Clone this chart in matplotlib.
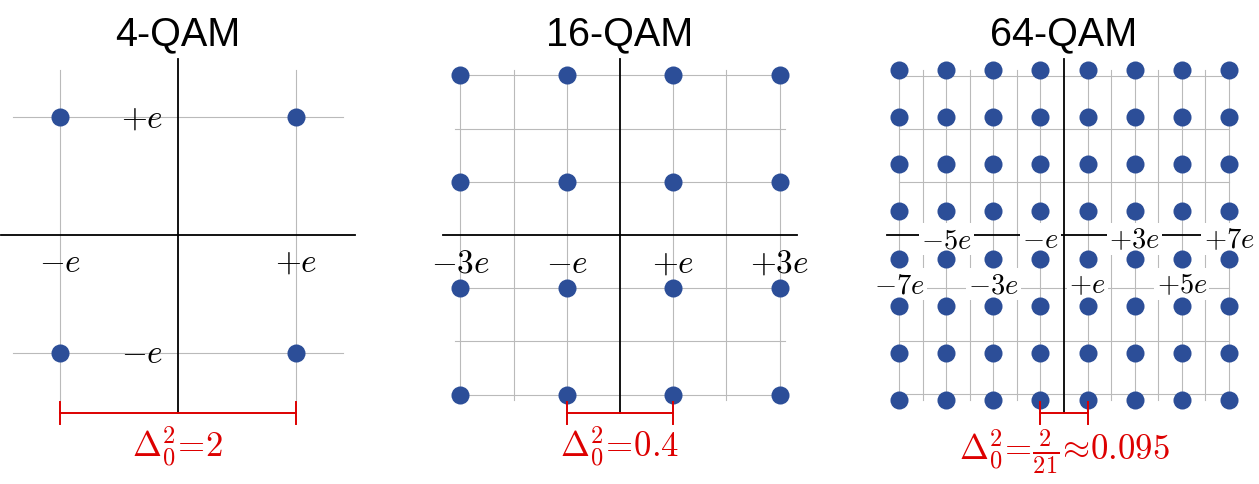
import matplotlib.pyplot as plt

plt.rcParams['mathtext.fontset'] = 'cm'

titles = ['4-QAM', '16-QAM', '64-QAM']
levels = [[-1, 1], [-3, -1, 1, 3], [-7, -5, -3, -1, 1, 3, 5, 7]]
grid_x = [[-1, 1], [-3, -2, -1, 1, 2, 3],
          [-7, -6, -5, -4, -3, -2, -1, 1, 2, 3, 4, 5, 6, 7]]
grid_y = [[-1, 1], [-3, -2, -1, 1, 2, 3],
          [-6.75, -4.5, -2.25, 2.25, 4.5, 6.75]]
deltas = [r'$\Delta_0^2\!=\!2$', r'$\Delta_0^2\!=\!0.4$',
          r'$\Delta_0^2\!=\!\frac{2}{21}\!\approx\!0.095$']

# axis labels: (text, x, y-baseline), in units of e
labels_4 = [(r'$-e$', -1, -0.305), (r'$+e$', 1, -0.305),
            (r'$+e$', -0.305, 0.915), (r'$-e$', -0.305, -1.076)]
labels_16 = [(r'$-3e$', -3, -0.695), (r'$-e$', -1, -0.695),
             (r'$+e$', 1, -0.695), (r'$+3e$', 3, -0.695)]
labels_64 = [(r'$-5e$', -5, -0.51), (r'$-e$', -1, -0.51),
             (r'$+3e$', 3, -0.51), (r'$+7e$', 7, -0.51),
             (r'$-7e$', -7, -2.42), (r'$-3e$', -3, -2.42),
             (r'$+e$', 1, -2.42), (r'$+5e$', 5, -2.42)]
labels = [labels_4, labels_16, labels_64]

# layout in pixels
W, H = 1259, 485
centers = [178, 620, 1064]
px_per_e = [118, 53.2, 23.57]
cy = 236
half = 200
label_size = [24, 24, 20.5]

fig = plt.figure(figsize=(W / 100, H / 100), dpi=100)

blue = '#2c4e98'
red = '#dd0000'
gray = '#bababa'

for i in range(3):
    s = px_per_e[i]
    cx = centers[i]
    ax = fig.add_axes([(cx - half) / W, (H - cy - half) / H, 2 * half / W, 2 * half / H])
    lim = half / s
    ax.set_xlim(-lim, lim)
    ax.set_ylim(-lim, lim)
    ax.axis('off')

    g = 165 / s
    for x in grid_x[i]:
        ax.plot([x, x], [-g, g], color=gray, lw=0.8, zorder=1)
    for y in grid_y[i]:
        ax.plot([-g, g], [y, y], color=gray, lw=0.8, zorder=1)

    a = 177 / s
    ax.plot([-a, a], [0, 0], color='black', lw=1.3, zorder=2)
    ax.plot([0, 0], [-178 / s, 176 / s], color='black', lw=1.3, zorder=2)

    xs = [x for x in levels[i] for y in levels[i]]
    ys = [y for x in levels[i] for y in levels[i]]
    ax.plot(xs, ys, 'o', color=blue, ms=13, mew=0, zorder=4, clip_on=False)

    for txt, x, y in labels[i]:
        if i == 2:
            ax.text(x, y, txt, fontsize=label_size[i], ha='center', va='baseline', zorder=3,
                    bbox=dict(boxstyle='square,pad=0.08', fc='white', ec='none'))
        else:
            ax.text(x, y, txt, fontsize=label_size[i], ha='center', va='baseline', zorder=3)

    # red bracket between the two closest points
    by = -178 / s
    t = 11 / s
    ax.plot([-1, 1], [by, by], color=red, lw=1.4, zorder=5, clip_on=False)
    ax.plot([-1, -1], [by - t, by + t], color=red, lw=1.4, zorder=5, clip_on=False)
    ax.plot([1, 1], [by - t, by + t], color=red, lw=1.4, zorder=5, clip_on=False)
    base = 457 if i < 2 else 459
    ax.text(0, (cy - base) / s, deltas[i], color=red, fontsize=25,
            ha='center', va='baseline')

    fig.text(cx / W, 1 - 45 / H, titles[i], fontsize=28.5, family='Liberation Sans',
             ha='center', va='baseline')

fig.savefig('out.png', dpi=100)
